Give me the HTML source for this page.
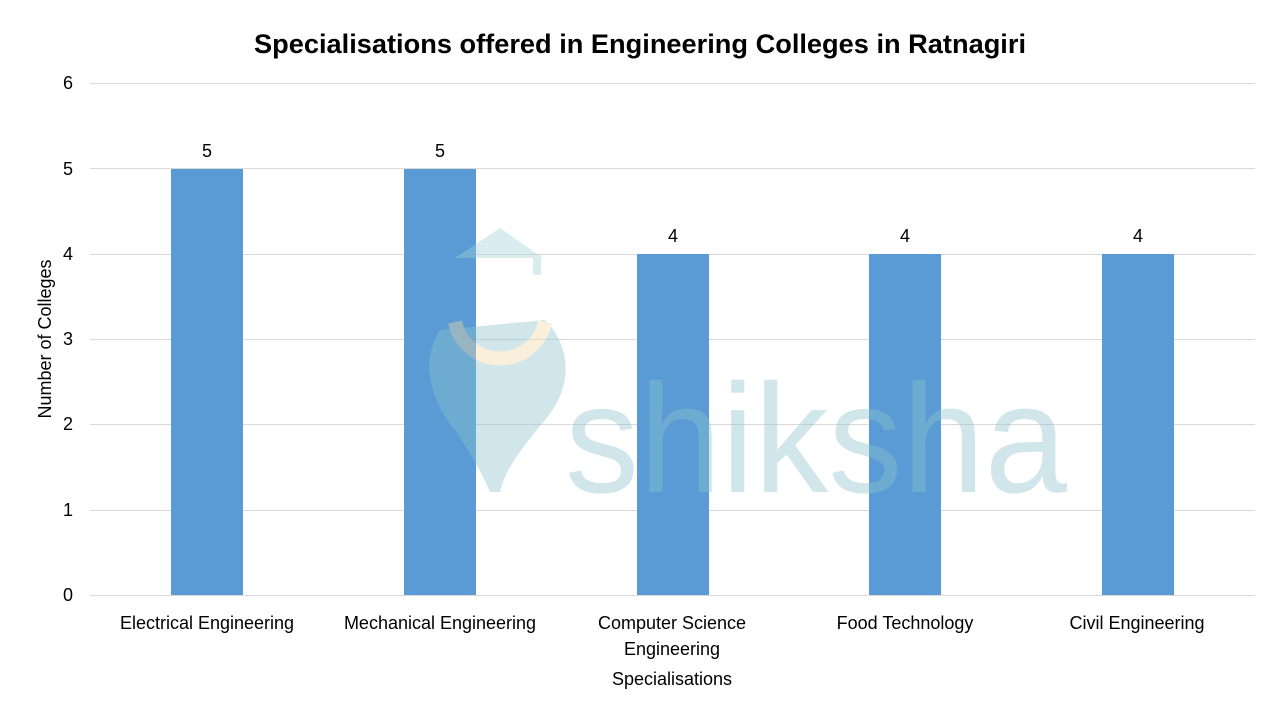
<!DOCTYPE html>
<html><head><meta charset="utf-8"><style>
html,body{margin:0;padding:0;background:#fff;width:1280px;height:720px;overflow:hidden}
</style></head><body>
<svg width="1280" height="720" xmlns="http://www.w3.org/2000/svg" font-family="Liberation Sans, sans-serif">
<rect width="1280" height="720" fill="#fff"/>
<text x="640" y="53" text-anchor="middle" font-size="27" font-weight="bold" fill="#000" textLength="772" lengthAdjust="spacingAndGlyphs">Specialisations offered in Engineering Colleges in Ratnagiri</text>
<g stroke="#d9d9d9" stroke-width="1">
<line x1="90" x2="1255" y1="83.5" y2="83.5"/>
<line x1="90" x2="1255" y1="168.5" y2="168.5"/>
<line x1="90" x2="1255" y1="254.5" y2="254.5"/>
<line x1="90" x2="1255" y1="339.5" y2="339.5"/>
<line x1="90" x2="1255" y1="424.5" y2="424.5"/>
<line x1="90" x2="1255" y1="510.5" y2="510.5"/>
<line x1="90" x2="1255" y1="595.5" y2="595.5"/>
</g>
<g font-size="18" fill="#000" text-anchor="end">
<text x="73" y="89">6</text><text x="73" y="175">5</text><text x="73" y="260">4</text>
<text x="73" y="345">3</text><text x="73" y="430">2</text><text x="73" y="516">1</text><text x="73" y="601">0</text>
</g>
<g fill="#5b9bd5">
<rect x="171" y="169" width="72" height="426"/>
<rect x="404" y="169" width="72" height="426"/>
<rect x="637" y="254" width="72" height="341"/>
<rect x="869" y="254" width="72" height="341"/>
<rect x="1102" y="254" width="72" height="341"/>
</g>
<g font-size="18" fill="#000" text-anchor="middle">
<text x="207" y="157">5</text><text x="440" y="157">5</text><text x="673" y="242">4</text><text x="905" y="242">4</text><text x="1138" y="242">4</text>
</g>
<g opacity="0.4">
<path d="M455 258 L500 228 L543 258 Z" fill="#a3d0d6"/>
<rect x="533" y="255" width="8" height="20" fill="#a3d0d6"/>
<path d="M440 330 C420 360 430 400 455 430 C475 460 485 480 490 492 L500 492 C505 470 520 450 545 420 C575 385 570 345 545 320 Z" fill="#8cc3cc"/>
<path d="M455 322 A46 46 0 0 0 545 322" stroke="#f5d9a8" stroke-width="14" fill="none"/>
<text x="565" y="492" font-size="155" fill="#8cc3cc" textLength="502" lengthAdjust="spacingAndGlyphs">shiksha</text>
</g>
<g font-size="18" fill="#000" text-anchor="middle">
<text x="207" y="629">Electrical Engineering</text>
<text x="440" y="629">Mechanical Engineering</text>
<text x="672" y="629">Computer Science</text>
<text x="672" y="655">Engineering</text>
<text x="905" y="629">Food Technology</text>
<text x="1137" y="629">Civil Engineering</text>
<text x="672" y="685">Specialisations</text>
</g>
<text transform="translate(51,339) rotate(-90)" font-size="18" text-anchor="middle" fill="#000">Number of Colleges</text>
</svg>
</body></html>
